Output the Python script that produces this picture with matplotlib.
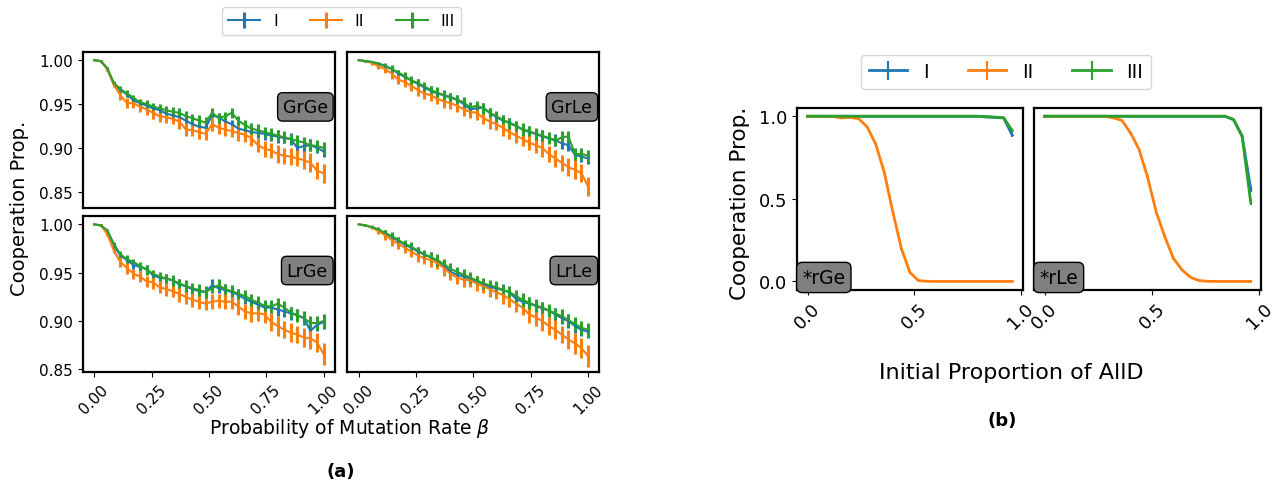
import numpy as np
import matplotlib
matplotlib.use("Agg")
import matplotlib.pyplot as plt

# ---------------- data (panel a) : values in thousandths ----------------
beta = np.linspace(0, 1, 36)

grge_I   = [1000,999,990,972,966,961,954,951,948,945,943,939,937,935,931,927,924,923,937,935,930,927,922,920,918,917,916,914,913,911,910,900,902,903,900,896]
grge_II  = [1000,999,990,972,960,951,951,947,944,940,936,935,933,930,921,920,918,916,927,923,921,919,917,915,911,903,899,897,893,891,890,888,886,883,874,871]
grge_III = [1000,999,991,974,967,962,957,952,950,947,945,943,941,940,936,934,931,929,940,934,936,940,931,926,922,920,918,916,914,912,910,908,906,903,902,900]

grle_I   = [1000,999,998,996,993,990,985,981,977,973,969,965,962,960,958,955,950,944,945,946,940,935,931,929,925,921,918,916,913,911,909,905,903,892,890,888]
grle_II  = [1000,999,997,993,990,985,978,975,971,966,962,960,956,953,951,948,944,941,940,934,930,927,923,918,914,910,906,903,900,893,888,883,878,875,871,856]
grle_III = [1000,999,998,996,994,990,986,982,977,974,970,966,963,960,957,955,952,946,948,945,940,936,932,928,925,921,919,916,914,911,908,912,913,893,893,891]

lrge_I   = [1000,999,993,978,968,963,958,956,954,947,945,944,942,938,936,933,931,930,937,934,932,930,927,923,920,917,914,914,912,910,908,906,903,890,896,899]
lrge_II  = [1000,999,990,973,961,955,949,946,941,940,935,933,931,928,925,922,920,918,920,921,920,920,915,910,908,908,907,899,895,891,888,886,883,882,878,866]
lrge_III = [1000,999,994,980,969,964,961,957,953,949,946,944,942,939,936,934,932,930,934,937,933,931,928,926,922,919,916,915,918,914,909,906,903,898,898,900]

lrle_I   = [1000,999,997,994,991,987,983,979,976,972,969,966,962,957,951,948,946,944,941,938,935,934,932,930,923,920,918,916,913,911,907,903,900,895,891,889]
lrle_II  = [1000,999,997,993,989,984,980,976,972,968,965,963,960,955,949,945,943,942,939,936,933,930,927,923,918,914,907,904,900,895,891,886,881,877,872,864]
lrle_III = [1000,999,997,995,991,988,984,980,977,973,969,966,963,959,954,951,948,945,942,939,937,935,932,930,926,922,919,916,914,911,908,905,901,897,893,891]

# error half-widths (thousandths)
err_I   = [0,1,1,2,3,3,4,4,4,5,4,5,5,6,5,5,6,5,6,5,6,5,6,5,6,6,7,6,7,6,7,6,7,7,6,7]
err_II  = [0,1,2,3,5,6,5,6,6,7,6,7,6,8,7,7,8,7,8,7,8,7,9,8,9,8,9,9,10,9,10,9,10,11,10,11]
err_III = [0,1,1,2,3,4,3,4,5,4,5,5,6,5,6,5,6,6,5,6,5,6,5,6,6,7,6,7,6,7,6,7,6,7,7,7]

# ---------------- data (panel b) ----------------
alld = np.linspace(0, 0.96, 25)
rge_I   = [1.0,1.0,1.0,1.0,1.0,1.0,1.0,1.0,1.0,1.0,1.0,1.0,1.0,1.0,1.0,1.0,1.0,1.0,1.0,1.0,1.0,0.995,0.993,0.99,0.885]
rge_II  = [1.0,1.0,1.0,0.998,0.99,0.993,0.985,0.935,0.83,0.66,0.42,0.2,0.055,0.005,0.001,0.0,0.0,0.0,0.0,0.0,0.0,0.0,0.0,0.0,0.0]
rge_III = [1.0,1.0,1.0,1.0,1.0,1.0,1.0,1.0,1.0,1.0,1.0,1.0,1.0,1.0,1.0,1.0,1.0,1.0,1.0,1.0,1.0,0.998,0.995,0.99,0.913]
rle_I   = [1.0,1.0,1.0,1.0,1.0,1.0,1.0,1.0,1.0,1.0,1.0,1.0,1.0,1.0,1.0,1.0,1.0,1.0,1.0,1.0,1.0,1.0,0.98,0.88,0.56]
rle_II  = [1.0,1.0,1.0,1.0,1.0,1.0,1.0,1.0,0.99,0.975,0.90,0.80,0.63,0.42,0.27,0.14,0.07,0.025,0.005,0.001,0.0,0.0,0.0,0.0,0.0]
rle_III = [1.0,1.0,1.0,1.0,1.0,1.0,1.0,1.0,1.0,1.0,1.0,1.0,1.0,1.0,1.0,1.0,1.0,1.0,1.0,1.0,1.0,1.0,0.98,0.88,0.48]
# error half-widths for panel b
rge_err_I   = [0,0,0,0,0,0,0,0,0,0,0,0,0,0,0,0,0,0,0,0,0,0.002,0.003,0.004,0.012]
rge_err_II  = [0,0,0,0.002,0.004,0.004,0.005,0.008,0.01,0.012,0.012,0.01,0.008,0.004,0.002,0,0,0,0,0,0,0,0,0,0]
rge_err_III = [0,0,0,0,0,0,0,0,0,0,0,0,0,0,0,0,0,0,0,0,0,0.002,0.003,0.004,0.012]
rle_err_I   = [0,0,0,0,0,0,0,0,0,0,0,0,0,0,0,0,0,0,0,0,0,0.002,0.004,0.008,0.02]
rle_err_II  = [0,0,0,0,0,0,0,0,0.003,0.005,0.008,0.01,0.012,0.012,0.01,0.008,0.006,0.004,0.002,0,0,0,0,0,0]
rle_err_III = [0,0,0,0,0,0,0,0,0,0,0,0,0,0,0,0,0,0,0,0,0,0.002,0.004,0.008,0.02]

series_labels = ["I", "II", "III"]
colors = ["#1f77b4", "#ff7f0e", "#2ca02c"]

# ---------------- figure ----------------
W, H = 1284, 481
fig = plt.figure(figsize=(W / 100, H / 100), dpi=100)


def add_ax(left, top, w, h):
    return fig.add_axes([left / W, 1 - (top + h) / H, w / W, h / H])


panels_a = [
    ("GrGe", (grge_I, grge_II, grge_III), (82.7, 53.3, 252.3, 156.0)),
    ("GrLe", (grle_I, grle_II, grle_III), (347.3, 53.3, 252.2, 156.0)),
    ("LrGe", (lrge_I, lrge_II, lrge_III), (82.7, 216.7, 252.3, 156.6)),
    ("LrLe", (lrle_I, lrle_II, lrle_III), (347.3, 216.7, 252.2, 156.6)),
]
errs_a = (err_I, err_II, err_III)

handles = None
for i, (name, ser, box) in enumerate(panels_a):
    ax = add_ax(*box)
    hs = []
    for s, e, c, lab in zip(ser, errs_a, colors, series_labels):
        h = ax.errorbar(beta, np.array(s) / 1000, yerr=np.array(e) / 1000,
                        color=c, lw=1.5, elinewidth=2.2, capsize=0, label=lab)
        hs.append(h)
    if handles is None:
        handles = hs
    ax.set_xlim(-0.05, 1.05)
    if i < 2:
        ax.set_ylim(0.831, 1.009)
    else:
        ax.set_ylim(0.847, 1.009)
    ax.set_xticks([0, 0.25, 0.5, 0.75, 1.0])
    ax.set_xticklabels(["0.00", "0.25", "0.50", "0.75", "1.00"], rotation=45,
                       fontsize=11)
    ax.set_yticks([0.85, 0.90, 0.95, 1.00])
    ax.set_yticklabels(["0.85", "0.90", "0.95", "1.00"], fontsize=11)
    if i < 2:
        ax.tick_params(axis="x", bottom=False, labelbottom=False)
    if i % 2 == 1:
        ax.tick_params(axis="y", left=False, labelleft=False)
    for sp in ax.spines.values():
        sp.set_linewidth(1.6)
    ax.text(0.972, 0.65, name, transform=ax.transAxes, ha="right", va="center",
            fontsize=12.5,
            bbox=dict(boxstyle="round,pad=0.3", facecolor="#808080",
                      edgecolor="black", linewidth=1.0))

fig.legend(handles, series_labels, loc="center", ncol=3, fontsize=11.5,
           bbox_to_anchor=(341.5 / W, 1 - 22 / H))
fig.text(20 / W, 1 - 208 / H, "Cooperation Prop.", rotation=90, ha="center",
         va="center", fontsize=14)
fig.text(350 / W, 1 - 428 / H, r"Probability of Mutation Rate $\beta$",
         ha="center", va="center", fontsize=13.5)
fig.text(341 / W, 1 - 472 / H, "(a)", ha="center", va="center", fontsize=13,
         fontweight="bold")

# ---------------- panel b ----------------
panels_b = [
    ("*rGe", (rge_I, rge_II, rge_III), (rge_err_I, rge_err_II, rge_err_III),
     (797.3, 109.0, 225.2, 181.7)),
    ("*rLe", (rle_I, rle_II, rle_III), (rle_err_I, rle_err_II, rle_err_III),
     (1034.3, 109.0, 226.7, 181.7)),
]
handles_b = None
for i, (name, ser, errs, box) in enumerate(panels_b):
    ax = add_ax(*box)
    hs = []
    for s, e, c, lab in zip(ser, errs, colors, series_labels):
        h = ax.errorbar(alld, s, yerr=e, color=c, lw=2.0, elinewidth=1.5,
                        capsize=0, label=lab)
        hs.append(h)
    if handles_b is None:
        handles_b = hs
    ax.set_xlim(-0.048, 1.008)
    ax.set_ylim(-0.05, 1.05)
    ax.set_xticks([0, 0.5, 1.0])
    ax.set_xticklabels(["0.0", "0.5", "1.0"], rotation=45, fontsize=13)
    ax.set_yticks([0, 0.5, 1.0])
    ax.set_yticklabels(["0.0", "0.5", "1.0"], fontsize=13)
    if i == 1:
        ax.tick_params(axis="y", left=False, labelleft=False)
    for sp in ax.spines.values():
        sp.set_linewidth(1.6)
    ax.text(0.022, 0.015, name, transform=ax.transAxes, ha="left", va="bottom",
            fontsize=13.5,
            bbox=dict(boxstyle="round,pad=0.3", facecolor="#808080",
                      edgecolor="black", linewidth=1.0))

fig.legend(handles_b, series_labels, loc="center", ncol=3, fontsize=14,
           bbox_to_anchor=(1006 / W, 1 - 72.8 / H))
fig.text(740 / W, 1 - 203 / H, "Cooperation Prop.", rotation=90, ha="center",
         va="center", fontsize=15.5)
fig.text(1011 / W, 1 - 373 / H, "Initial Proportion of AllD", ha="center",
         va="center", fontsize=16)
fig.text(1002 / W, 1 - 421 / H, "(b)", ha="center", va="center", fontsize=13,
         fontweight="bold")

fig.savefig("out.png", dpi=100)
